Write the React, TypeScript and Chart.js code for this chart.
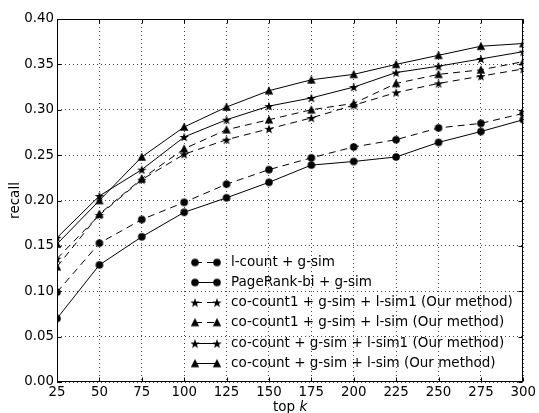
import React, { useEffect, useRef } from 'react';
import { Chart, registerables } from 'chart.js';
Chart.register(...registerables);

const topK = [25, 50, 75, 100, 125, 150, 175, 200, 225, 250, 275, 300];
const lCountGSim = [0.099, 0.153, 0.179, 0.198, 0.218, 0.234, 0.247, 0.259, 0.267, 0.280, 0.285, 0.296];
const pageRankBiGSim = [0.070, 0.129, 0.160, 0.187, 0.203, 0.220, 0.239, 0.243, 0.248, 0.264, 0.276, 0.289];
const coCount1GSimLSim1 = [0.136, 0.184, 0.223, 0.251, 0.267, 0.279, 0.291, 0.305, 0.319, 0.329, 0.337, 0.345];
const coCount1GSimLSim = [0.127, 0.185, 0.224, 0.257, 0.278, 0.289, 0.300, 0.307, 0.329, 0.339, 0.344, 0.353];
const coCountGSimLSim1 = [0.159, 0.205, 0.234, 0.270, 0.289, 0.304, 0.313, 0.325, 0.341, 0.348, 0.356, 0.364];
const coCountGSimLSim = [0.152, 0.200, 0.248, 0.281, 0.303, 0.321, 0.333, 0.339, 0.350, 0.360, 0.370, 0.373];

const seriesLabels = [
  'l-count + g-sim',
  'PageRank-bi + g-sim',
  'co-count1 + g-sim + l-sim1 (Our method)',
  'co-count1 + g-sim + l-sim (Our method)',
  'co-count + g-sim + l-sim1 (Our method)',
  'co-count + g-sim + l-sim (Our method)',
];
const seriesValues = [lCountGSim, pageRankBiGSim, coCount1GSimLSim1, coCount1GSimLSim, coCountGSimLSim1, coCountGSimLSim];
const seriesMarkers = ['circle', 'circle', 'star', 'triangle', 'star', 'triangle'];
const seriesDashed = [true, false, true, true, false, false];

const FONT = 'DejaVu Sans';
const FS = 13.33;
const LFS = 13.5;

function makeMarker(kind: string): HTMLCanvasElement {
  const c = document.createElement('canvas');
  const s = 12;
  c.width = s;
  c.height = s;
  const g = c.getContext('2d')!;
  const cx = s / 2, cy = s / 2;
  g.fillStyle = '#000';
  g.beginPath();
  if (kind === 'circle') {
    g.arc(cx, cy, 3.8, 0, Math.PI * 2);
  } else if (kind === 'triangle') {
    const h = 3.9;
    g.moveTo(cx, cy - h - 0.6);
    g.lineTo(cx + h + 0.3, cy + h - 0.2);
    g.lineTo(cx - h - 0.3, cy + h - 0.2);
    g.closePath();
  } else {
    const ro = 5, ri = 2.0;
    for (let i = 0; i < 10; i++) {
      const r = i % 2 === 0 ? ro : ri;
      const a = -Math.PI / 2 + (i * Math.PI) / 5;
      const x = cx + r * Math.cos(a), y = cy + 0.5 + r * Math.sin(a);
      if (i === 0) g.moveTo(x, y); else g.lineTo(x, y);
    }
    g.closePath();
  }
  g.fill();
  return c;
}

const DASH = [7, 5];

export default function App() {
  const ref = useRef<HTMLCanvasElement>(null);
  useEffect(() => {
    const markers: Record<string, HTMLCanvasElement> = {
      circle: makeMarker('circle'),
      star: makeMarker('star'),
      triangle: makeMarker('triangle'),
    };
    const datasets = seriesValues.map((vals, i) => ({
      label: seriesLabels[i],
      data: topK.map((k, j) => ({ x: k, y: vals[j] })),
      borderColor: '#000',
      backgroundColor: '#000',
      borderWidth: 1,
      borderDash: seriesDashed[i] ? DASH : [],
      pointStyle: markers[seriesMarkers[i]],
      pointRadius: 4,
      tension: 0,
      fill: false,
    }));

    const framePlugin = {
      id: 'frame',
      afterDraw(chart: any) {
        const { ctx, chartArea: a, scales } = chart;
        const L = Math.floor(a.left) + 0.5, R = Math.floor(a.right) - 0.5;
        const T = Math.floor(a.top) + 0.5, B = Math.floor(a.bottom) - 0.5;
        ctx.save();
        ctx.strokeStyle = '#000';
        ctx.lineWidth = 1;
        ctx.setLineDash([]);
        ctx.strokeRect(L, T, R - L, B - T);
        const tl = 4;
        ctx.beginPath();
        for (const t of scales.x.ticks) {
          const px = Math.round(scales.x.getPixelForValue(t.value)) + 0.5;
          ctx.moveTo(px, B); ctx.lineTo(px, B - tl);
          ctx.moveTo(px, T); ctx.lineTo(px, T + tl);
        }
        for (const t of scales.y.ticks) {
          const py = Math.round(scales.y.getPixelForValue(t.value)) + 0.5;
          ctx.moveTo(L, py); ctx.lineTo(L + tl, py);
          ctx.moveTo(R, py); ctx.lineTo(R - tl, py);
        }
        ctx.stroke();

        // legend
        const x1 = 195, x2 = 217, tx = 231;
        const y0 = 261.7, step = 20.2;
        ctx.font = `${LFS}px "${FONT}"`;
        ctx.textBaseline = 'middle';
        ctx.textAlign = 'left';
        ctx.fillStyle = '#000';
        chart.data.datasets.forEach((ds: any, i: number) => {
          const y = Math.round(y0 + i * step) + 0.5;
          ctx.beginPath();
          ctx.setLineDash(ds.borderDash || []);
          ctx.moveTo(x1, y); ctx.lineTo(x2, y);
          ctx.stroke();
          ctx.setLineDash([]);
          const m = ds.pointStyle as HTMLCanvasElement;
          ctx.drawImage(m, x1 - m.width / 2, y - m.height / 2);
          ctx.drawImage(m, x2 - m.width / 2, y - m.height / 2);
          ctx.fillText(ds.label, tx, y);
        });

        // axis titles
        ctx.font = `${LFS}px "${FONT}"`;
        ctx.save();
        ctx.translate(15.5, (a.top + a.bottom) / 2);
        ctx.rotate(-Math.PI / 2);
        ctx.textAlign = 'center';
        ctx.fillText('recall', 0, 0);
        ctx.restore();

        const cx = (a.left + a.right) / 2;
        const yT = 407;
        ctx.font = `${LFS}px "${FONT}"`;
        const w1 = ctx.measureText('top ').width;
        ctx.font = `italic ${LFS}px "${FONT}"`;
        const w2 = ctx.measureText('k').width;
        const sx = cx - (w1 + w2) / 2;
        ctx.textAlign = 'left';
        ctx.font = `${LFS}px "${FONT}"`;
        ctx.fillText('top ', sx, yT);
        ctx.font = `italic ${LFS}px "${FONT}"`;
        ctx.fillText('k', sx + w1, yT);
        ctx.restore();
      },
    };

    const chart = new Chart(ref.current!, {
      type: 'line',
      data: { datasets },
      options: {
        animation: false,
        responsive: false,
        devicePixelRatio: 1,
        events: [],
        layout: { padding: { left: 0, top: 19, right: 13, bottom: 0 } },
        plugins: { legend: { display: false }, tooltip: { enabled: false }, title: { display: false } },
        scales: {
          x: {
            type: 'linear',
            min: 25,
            max: 300,
            afterFit: (s: any) => { s.height = 31; },
            ticks: { stepSize: 25, color: '#000', padding: 3, font: { family: FONT, size: FS }, maxRotation: 0 },
            grid: { color: '#444', lineWidth: 1, drawTicks: false },
            border: { display: false, dash: [1, 3] },
          },
          y: {
            type: 'linear',
            min: 0,
            max: 0.4,
            afterFit: (s: any) => { s.width = 57; },
            ticks: {
              stepSize: 0.05,
              color: '#000',
              padding: 3,
              font: { family: FONT, size: FS },
              callback: (v: any) => Number(v).toFixed(2),
            },
            grid: { color: '#444', lineWidth: 1, drawTicks: false },
            border: { display: false, dash: [1, 3] },
          },
        },
      },
      plugins: [framePlugin],
    });
    return () => chart.destroy();
  }, []);
  return (
    <div style={{ position: 'fixed', left: 0, top: 0, width: 539, height: 413, background: '#fff' }}>
      <canvas ref={ref} width={539} height={413} style={{ display: 'block' }} />
    </div>
  );
}
